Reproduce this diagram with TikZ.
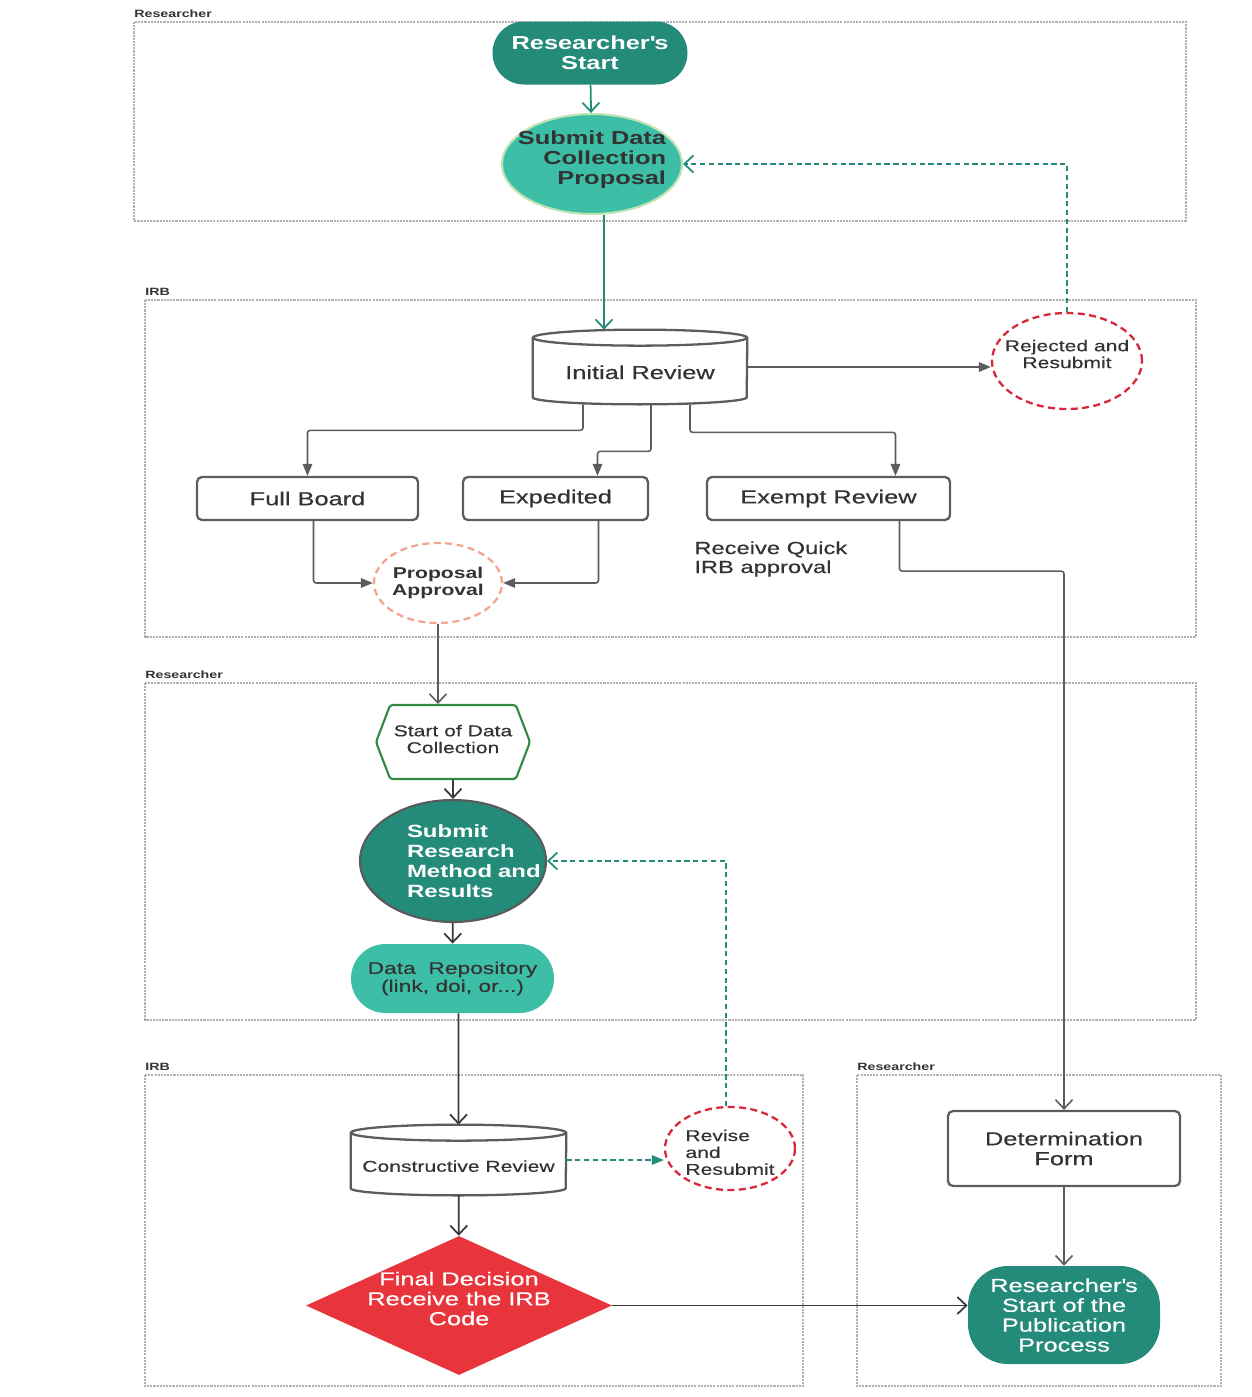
\documentclass[tikz,border=0pt]{standalone}
\usepackage{fontspec}
\setmainfont{Liberation Sans}[FakeStretch=1.35, UprightFeatures={FakeBold=0.4}]
\usepackage{tikz}
\usepackage{xcolor}
\usetikzlibrary{arrows.meta}
\usetikzlibrary{shapes.geometric,
                shapes.symbols,
                positioning,
                calc}

\definecolor{darkteal}{HTML}{248A79}
\definecolor{lightteal}{HTML}{3CBFA6}
\definecolor{palegreen}{HTML}{BFE3B5}
\definecolor{linegray}{HTML}{5C5C5C}
\definecolor{darkline}{HTML}{3A3A3A}
\definecolor{txtdark}{HTML}{333333}
\definecolor{loopred}{HTML}{D9263A}
\definecolor{salmon}{HTML}{F2A58F}
\definecolor{hexgreen}{HTML}{2F8A3F}
\definecolor{ringgray}{HTML}{5A5A5A}
\definecolor{decred}{HTML}{E8343B}
\definecolor{lanegray}{HTML}{B0B0B0}

\newcommand{\bigtxt}{\fontsize{10.7}{11.3}\selectfont}
\newcommand{\midtxt}{\fontsize{8.9}{9.6}\selectfont}
\newcommand{\srmtxt}{\fontsize{10.1}{11.3}\selectfont}
\newcommand{\drtxt}{\fontsize{9.6}{10.2}\selectfont}
\newcommand{\quicktxt}{\fontsize{10}{10.8}\selectfont}
\newcommand{\lanetxt}{\fontsize{6}{7}\selectfont}

% database outline round a named node
\newcommand{\dbshape}[2]{%
  \draw[draw=linegray, line width=1.3pt] ([yshift=-1.6mm]#1.north west) -- ([yshift=1.4mm]#1.south west)
    arc[start angle=180, end angle=360, x radius=#2, y radius=1.4mm]
    -- ([yshift=-1.6mm]#1.north east);
  \draw[draw=linegray, line width=1.3pt] ([yshift=-1.6mm]#1.north) ellipse[x radius=#2, y radius=1.6mm];
}

\begin{document}
\begin{tikzpicture}[x=0.2mm, y=-0.2mm,
        every node/.style={align=center, inner sep=0pt, font=\bigtxt, text=txtdark},
        lane/.style={draw=lanegray, dash pattern=on 1.2pt off 0.6pt, line width=0.6pt},
        lanelabel/.style={anchor=west, font=\lanetxt\bfseries, text=black!80},
        startend/.style={fill=darkteal, text=white},
        box/.style={draw=linegray, line width=1.3pt, rounded corners=1mm},
        redloop/.style={ellipse, draw=loopred, dash pattern=on 4pt off 2.5pt, line width=1.3pt, font=\midtxt},
        flow/.style={draw=linegray, line width=0.9pt, rounded corners=1.5pt, -{Triangle[length=2.4mm, width=1.9mm]}},
        grayopen/.style={draw=linegray, line width=0.9pt, rounded corners=1.5pt, -{Straight Barb[length=1.8mm, width=3.4mm]}},
        darkflow/.style={draw=darkline, line width=1pt, -{Straight Barb[length=1.8mm, width=3.4mm]}},
        tealflow/.style={draw=darkteal, line width=1pt, -{Straight Barb[length=1.8mm, width=3.4mm]}},
        tealdash/.style={draw=darkteal, line width=0.9pt, dash pattern=on 3pt off 2pt, -{Triangle[length=2.4mm, width=1.9mm]}}
        ]
        \useasboundingbox (0,0) rectangle (1252,1397);

        % Lanes
        \draw[lane] (134,22) rectangle (1186,221);
        \node[lanelabel] (lane1) at (134,14) {Researcher};
        \draw[lane] (145,300) rectangle (1196,637);
        \node[lanelabel] (lane2) at (145,292) {IRB};
        \draw[lane] (145,683) rectangle (1196,1020);
        \node[lanelabel] (lane3) at (145,675) {Researcher};
        \draw[lane] (145,1075) rectangle (803,1386);
        \node[lanelabel] (lane4) at (145,1067) {IRB};
        \draw[lane] (857,1075) rectangle (1221,1386);
        \node[lanelabel] (lane5) at (857,1067) {Researcher};

        % Nodes
        \node[startend, rounded corners=6.3mm, minimum width=39mm, minimum height=12.6mm, font=\bigtxt\bfseries] (rstart) at (590,53) {Researcher\textquotesingle s\\Start};
        \node[ellipse, fill=lightteal, draw=palegreen, line width=1.2pt, minimum width=36mm, minimum height=20mm, inner xsep=-4mm, align=right, text depth=6.8pt, font=\bigtxt\bfseries] (sdcp) at (592,164) {Submit Data\\Collection\\Proposal};
        \node[minimum width=42.8mm, minimum height=14.8mm] (irev) at (640,367) {\raisebox{-2.4mm}[0pt][0pt]{Initial Review}};
        \dbshape{irev}{21.4mm}
        \node[redloop, minimum width=30mm, minimum height=19.2mm, inner xsep=-3mm, text depth=8pt] (rejr) at (1067,361) {Rejected and\\Resubmit};
        \node[box, minimum width=44.2mm, minimum height=8.6mm] (fullb) at (307.5,498.5) {Full Board};
        \node[box, minimum width=37mm, minimum height=8.6mm] (expd) at (555.5,498.5) {Expedited};
        \node[box, minimum width=48.6mm, minimum height=8.6mm] (exem) at (828.5,498.5) {Exempt Review};
        \node[anchor=west, align=left, font=\quicktxt] (quick) at (694,559) {Receive Quick\\IRB approval};
        \node[ellipse, draw=salmon, dash pattern=on 4pt off 2.5pt, line width=1.3pt, minimum width=25.6mm, minimum height=16mm, inner xsep=-1mm, font=\midtxt\bfseries] (papp) at (438,583) {Proposal\\Approval};
        \node[signal, signal to=west and east, signal pointer angle=138, draw=hexgreen, line width=1.2pt, rounded corners=1.5pt, minimum width=30.8mm, minimum height=14.8mm, text depth=3.4pt, font=\midtxt] (sdcol) at (453,742) {Start of Data\\Collection};
        \node[ellipse, fill=darkteal, draw=ringgray, line width=1.2pt, text=white, minimum width=37.2mm, minimum height=24.4mm, text width=18.4mm, align=left, font=\srmtxt\bfseries] (srmr) at (453,861) {Submit\\Research\\Method~and\\Results};
        \node[fill=lightteal, rounded corners=6.9mm, minimum width=40.6mm, minimum height=13.8mm, font=\drtxt] (drepo) at (452.5,978.5) {Data~~Repository\\(link, doi, or...)};
        \node[minimum width=43mm, minimum height=14mm, font=\midtxt] (crev) at (458.5,1160) {\raisebox{-2.35mm}[0pt][0pt]{Constructive Review}};
        \dbshape{crev}{21.5mm}
        \node[redloop, minimum width=26mm, minimum height=16.6mm, inner xsep=-1mm, align=left, text height=30pt] (revr) at (730,1148.5) {Revise\\and\\Resubmit};
        \node[diamond, fill=decred, text=white, aspect=2.1, inner xsep=-2mm, inner ysep=-1mm, minimum width=61.2mm, minimum height=27.8mm, text depth=8pt] (fdec) at (459,1305.5) {Final Decision\\Receive the IRB\\Code};
        \node[box, minimum width=46.4mm, minimum height=15mm] (detf) at (1064,1148.5) {Determination\\Form};
        \node[startend, rounded corners=8mm, minimum width=38.4mm, minimum height=19.6mm] (pubs) at (1064,1315) {Researcher\textquotesingle s\\Start of the\\Publication\\Process};

        % Arrows
        \draw[tealflow] (rstart) -- (sdcp);
        \draw[tealflow] ([xshift=2.4mm]sdcp.south) -- ([xshift=-7.2mm]irev.north);
        \draw[flow] (irev.east) -- (irev.east -| rejr.west);
        \draw[tealflow, dash pattern=on 3pt off 2pt] (rejr.north) |- (sdcp.east);
        \draw[flow] ([xshift=-11.4mm]irev.south) -- ++(0,26) -| (fullb.north);
        \draw[flow] ([xshift=2.2mm]irev.south) -- ++(0,47) -| ([xshift=8.4mm]expd.north);
        \draw[flow] ([xshift=10mm]irev.south) -- ++(0,28) -| ([xshift=13.4mm]exem.north);
        \draw[flow] ([xshift=1.2mm]fullb.south) |- (papp.west);
        \draw[flow] ([xshift=8.6mm]expd.south) |- (papp.east);
        \draw[grayopen] ([xshift=14.2mm]exem.south) -- ++(0,50) -| (detf.north);
        \draw[grayopen] (papp.south) -- ([xshift=-3mm]sdcol.north);
        \draw[darkflow] (sdcol) -- (srmr);
        \draw[darkflow] (srmr) -- (drepo);
        \draw[darkflow] ([xshift=1.2mm]drepo.south) -- (crev.north);
        \draw[tealdash] (crev.east) -- (crev.east -| revr.west);
        \draw[tealflow, dash pattern=on 3pt off 2pt] ([xshift=-0.8mm]revr.north) |- (srmr.east);
        \draw[darkflow] (crev) -- (fdec);
        \draw[darkflow] (fdec.east) -- (fdec.east -| pubs.west);
        \draw[grayopen] (detf) -- (pubs);

\end{tikzpicture}
\end{document}
